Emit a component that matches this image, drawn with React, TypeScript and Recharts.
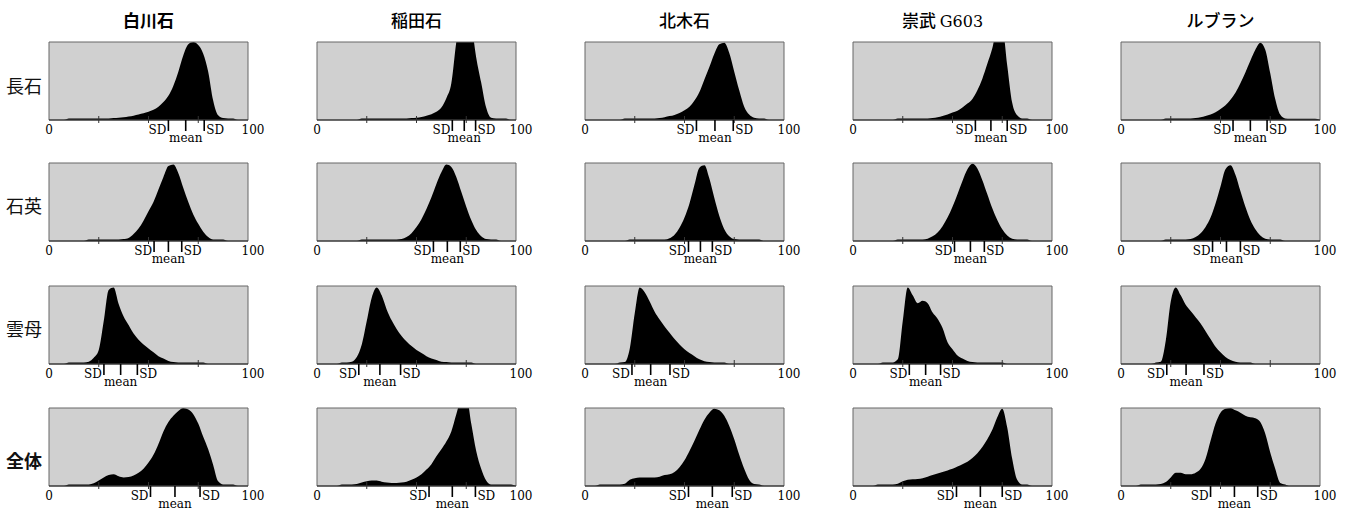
import { AreaChart, Area, XAxis, YAxis, CartesianGrid, ReferenceArea } from 'recharts'

const STONES = ['白川石', '稲田石', '北木石', '崇武 G603', 'ルブラン']
const MINERALS = ['長石', '石英', '雲母', '全体']

// brightness bins (0-100)
const BINS = [
  0, 2.5, 5, 7.5, 10, 12.5, 15, 17.5, 20, 22.5,
  25, 27.5, 30, 32.5, 35, 37.5, 40, 42.5, 45, 47.5,
  50, 52.5, 55, 57.5, 60, 62.5, 65, 67.5, 70, 72.5,
  75, 77.5, 80, 82.5, 85, 87.5, 90, 92.5, 95, 97.5,
  100,
]

// 長石
const FELDSPAR = [
  [0,0,0,0,2,2,2,2,2,2, 2,2,2,2.5,3,3.5,4.5,5.5,7,8.5, 10.5,13,17,23,31,44,62,83,97,100, 96,85,62,25,6,2.5,2,2,0,0, 0],
  [0,0,0,0,0,0,0,0,0,2, 2,2,2,2,2,2,2,2,2,2.5, 3,4,5.5,7.5,10.5,16,28,47,100,135, 150,125,80,48,16,3,2,2,2,0, 0],
  [0,0,0,0,0,0,0,0,2,2, 2,2,2,2,2,2.5,3.5,5,6.5,9, 12.5,17,25,36,52,68,85,97,99,86, 62,38,17,7,3,2,2,0,0,0, 0],
  [0,0,0,0,0,0,0,0,0,2, 2,2,2,2,2,2,2.5,3.5,5,7, 9.5,12,16,21,27,38,53,72,92,118, 118,70,22,6,2,2,0,0,0,0, 0],
  [0,0,0,0,0,0,0,0,0,2, 2,2,2,2,2,2.5,3.5,5,7,10, 14,19,26,35,47,61,76,90,99,90, 60,27,7,2,1.5,1.5,1.5,1.5,1.5,1.5, 0],
]
const FELDSPAR_STATS = [[60, 68.7, 78], [68, 74, 79.7], [56, 65.3, 74.5], [61.5, 69.3, 77.5], [56.3, 65, 73.4]]

// 石英
const QUARTZ = [
  [0,0,0,0,0,0,0,0,2,2, 2,2,2,2,2,2.5,4,9,16,26, 38,50,66,82,96,98,87,68,50,34, 22,12,5,2,2,2,0,0,0,0, 0],
  [0,0,0,0,0,0,0,0,0,2, 2,2,2,2,2,2,2,2.5,5,10, 18,28,41,56,73,88,98,95,82,63, 44,27,14,6,2.5,2,2,0,0,0, 0],
  [0,0,0,0,0,0,0,0,0,2, 2,2,2,2,2,2,2,3.5,8,17, 30,48,72,94,97,80,55,32,15,6, 2.5,2,2,2,2,2,0,0,0,0, 0],
  [0,0,0,0,0,0,0,0,0,2, 2,2,2,2,2,3,6,11,19,30, 44,60,77,92,99,93,78,60,42,27, 15,7,3,2,2,2,0,0,0,0, 0],
  [0,0,0,0,0,0,0,0,0,2, 2,2,2,2,2.5,5,10,18,30,48, 70,92,97,85,64,44,27,15,7,3, 2,2,2,0,0,0,0,0,0,0, 0],
]
const QUARTZ_STATS = [[52.8, 60, 66.7], [58.5, 65.5, 72], [52, 58, 64], [51, 59, 66], [46, 53, 60]]

// 雲母
const MICA = [
  [0,0,0,0,2,2,2,2,3,8, 18,55,95,98,77,61,50,39,31,25, 20,15,10,7,4,2.5,2,2,2,2, 2,2,0,0,0,0,0,0,0,0, 0],
  [0,0,0,0,0,2,2,3,9,25, 55,85,98,88,70,56,45,36,29,23, 18,14,10,7,5,3,2.5,2,2,2, 2,2,0,0,0,0,0,0,0,0, 0],
  [0,0,0,0,0,0,0,2,2.5,20, 65,98,92,80,67,57,48,40,32,25, 19,14,10,6,3.5,2.5,2,2,2,0, 0,0,0,0,0,0,0,0,0,0, 0],
  [0,0,0,0,0,0,2,2,2,6, 55,98,88,78,81,78,66,58,46,28, 19,11,7,4,2.5,2,2,2,2,2, 2,0,0,0,0,0,0,0,0,0, 0],
  [0,0,0,0,0,0,0,2,3,30, 80,98,88,76,68,60,52,42,32,22, 15,9,5,3,2,2,2,0,0,0, 0,0,0,0,0,0,0,0,0,0, 0],
]
const MICA_STATS = [[27.6, 36, 44.4], [21, 31.6, 42], [23.6, 33, 42.7], [28.3, 36.5, 44], [23, 32.7, 41.7]]

// 全体
const TOTAL = [
  [0,0,0,0,2,2,2,2,2,3.5, 7,11,14,15,12.5,11,11.5,13.5,17,22, 30,40,54,70,82,90,96,100,98,92, 80,63,47,27,6,2,2,2,0,0, 0],
  [0,0,0,0,0,2,2,2,2.5,4.5, 6,7,7,5.5,4.5,4,4,4.5,5.5,8, 11,15,21,28,38,47,57,70,92,112, 115,80,45,22,7,2,2,2,2,2, 0],
  [0,0,0,2,2,2,2,2,3,8, 10,11,11,11,11,12,14,15,18,24, 33,45,58,72,85,94,99,97,90,77, 60,40,22,8,2.5,2,0,0,0,0, 0],
  [0,0,0,0,0,2,2,2,2,3, 6,8,8.5,9,10,12,14,16,18,20, 22,25,28,31,36,42,50,60,72,88, 99,75,35,8,2,2,0,0,0,0, 0],
  [0,0,0,0,2,2,2,2,2.5,5, 11,17,17,15,15,17,22,35,58,80, 94,99,100,97,94,90,88,87,82,67, 43,22,4,2,0,0,0,0,0,0, 0],
]
const TOTAL_STATS = [[51, 63.3, 75.9], [56.3, 68, 79.6], [52, 64, 74], [52, 64, 75], [45, 57, 68.7]]

const ROWS = [FELDSPAR, QUARTZ, MICA, TOTAL]
const ROW_STATS = [FELDSPAR_STATS, QUARTZ_STATS, MICA_STATS, TOTAL_STATS]

const COL_X = [49, 317, 585, 853, 1121]
const ROW_Y = [42, 163, 286, 408]
const ROW_LABEL_Y = [85, 205, 328, 460]
const PW = 199
const PH = 78
const ML = 34
const MR = 34
const MT = 8
const AXIS_H = 30

const SERIF = '"DejaVu Serif", serif'
const CJK = '"Noto Sans CJK JP", sans-serif'

// ticks: 0,25,50,75,100 then SD, mean, SD (by index)
function AxisTick({ x, y, payload, index }: any) {
  const v = payload.value
  const txt = { fontFamily: SERIF, fontSize: 12, fill: '#000' }
  if (index >= 5) {
    return (
      <g>
        <line x1={x} x2={x} y1={y} y2={y + 11} stroke="#000" strokeWidth={1.6} />
        {index === 5 && <text x={x - 2} y={y + 14} textAnchor="end" {...txt}>SD</text>}
        {index === 7 && <text x={x + 2} y={y + 14} textAnchor="start" {...txt}>SD</text>}
        {index === 6 && <text x={x} y={y + 21.5} textAnchor="middle" {...txt}>mean</text>}
      </g>
    )
  }
  if (v === 0) return <text x={x} y={y + 14} textAnchor="middle" {...txt}>0</text>
  if (v === 100) return <text x={x + 5} y={y + 14} textAnchor="middle" {...txt}>100</text>
  return <line x1={x} x2={x} y1={y - 4} y2={y + 3} stroke="#333" strokeWidth={1} />
}

function Panel({ values, stats, left, top }: { values: number[]; stats: number[]; left: number; top: number }) {
  const data = BINS.map((b, i) => ({ x: b, v: values[i] }))
  const ticks = [0, 25, 50, 75, 100, ...stats]
  return (
    <div style={{ position: 'absolute', left: left - ML, top: top - MT }}>
      <AreaChart width={PW + ML + MR} height={PH + MT + AXIS_H} data={data}
        margin={{ top: MT, right: MR, bottom: 0, left: ML }}>
        <CartesianGrid fill="#d0d0d0" stroke="none" />
        <XAxis dataKey="x" type="number" domain={[0, 100]} ticks={ticks} interval={0}
          height={AXIS_H} tickSize={0} tickMargin={0} tickLine={false}
          axisLine={{ stroke: '#222', strokeWidth: 1 }}
          tick={(p: any) => <AxisTick {...p} />} />
        <YAxis hide domain={[0, 100]} allowDataOverflow />
        <Area dataKey="v" type="monotone" fill="#000" fillOpacity={1} stroke="none" isAnimationActive={false} />
        <ReferenceArea x1={0} x2={100} y1={0} y2={100} fill="none" stroke="#666" strokeWidth={1} />
      </AreaChart>
    </div>
  )
}

export default function App() {
  return (
    <div style={{ position: 'absolute', left: 0, top: 0, width: 1347, height: 511, overflow: 'hidden', background: '#fff' }}>
      {STONES.map((s, c) => (
        <div key={s} style={{
          position: 'absolute', left: COL_X[c] - (c === 3 ? 10 : 0), width: PW, top: 11, textAlign: 'center',
          fontFamily: CJK, fontSize: 17, lineHeight: '18px', fontWeight: c === 0 ? 700 : 500, color: '#000',
        }}>
          {s === '崇武 G603'
            ? <>崇武 <span style={{ fontFamily: SERIF, fontWeight: 400, fontSize: 16 }}>G603</span></>
            : s}
        </div>
      ))}
      {MINERALS.map((m, r) => (
        <div key={m} style={{
          position: 'absolute', left: 6, top: ROW_LABEL_Y[r] - 10, fontFamily: CJK, fontSize: 18,
          lineHeight: '20px', fontWeight: r === 3 ? 700 : 400, color: '#111',
        }}>{m}</div>
      ))}
      {ROWS.map((row, r) => row.map((vals, c) => (
        <Panel key={`${r}-${c}`} values={vals} stats={ROW_STATS[r][c]} left={COL_X[c]} top={ROW_Y[r]} />
      )))}
    </div>
  )
}
